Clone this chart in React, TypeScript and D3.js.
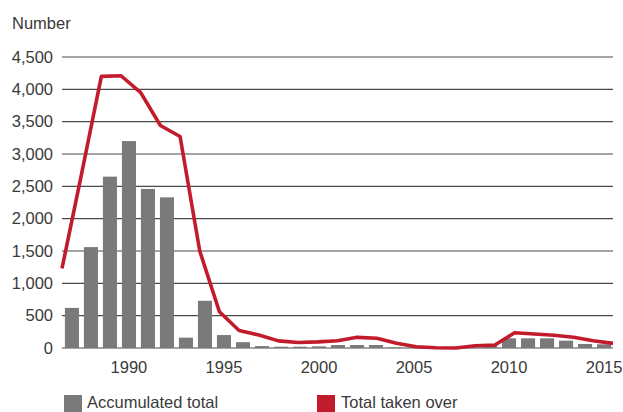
import React from 'react';
import * as d3 from 'd3';

const years = d3.range(1987, 2016).map(String);
const accumulated = [620, 1560, 2650, 3200, 2460, 2330, 160, 730, 200, 90, 30, 20, 20, 25, 46, 46, 46, 10, 5, 5, 5, 10, 30, 150, 150, 150, 113, 62, 57];
const takenOver = [1230, 2700, 4200, 4210, 3950, 3440, 3270, 1500, 560, 270, 200, 110, 85, 95, 113, 165, 150, 73, 20, 5, 0, 35, 45, 237, 217, 196, 165, 113, 72];
const yTicks = [0, 500, 1000, 1500, 2000, 2500, 3000, 3500, 4000, 4500];
const xLabels = ['1990', '1995', '2000', '2005', '2010', '2015'];

const width = 623;
const height = 412;
const left = 62;
const right = 613;
const top = 57;
const bottom = 348;
const font = '"Liberation Sans", Arial, sans-serif';
const textColor = '#3a3a3a';

export default function App() {
  const x = d3.scaleBand().domain(years).range([left + 1, right]).paddingInner(0.26).paddingOuter(0.1);
  const xp = d3.scalePoint().domain(years).range([left, right]);
  const y = d3.scaleLinear().domain([0, 4500]).range([bottom, top]);
  const fmt = d3.format(',');

  const line = d3
    .line<number>()
    .x((d, i) => xp(years[i]) as number)
    .y(d => y(d));

  return (
    <svg width={width} height={height} style={{ position: 'absolute', left: 0, top: 0 }} fontFamily={font}>
      <rect width={width} height={height} fill='#fff' />
      <text x={12} y={29} fontSize={16.5} fill={textColor}>Number</text>
      {yTicks.map(t => (
        <g key={t}>
          <line x1={left} x2={right} y1={y(t)} y2={y(t)} stroke='#4a4a4a' strokeWidth={1.2} />
          <text x={53} y={y(t)} dy='0.35em' textAnchor='end' fontSize={16.5} fill={textColor}>{fmt(t)}</text>
        </g>
      ))}
      {years.map((yr, i) => (
        <rect
          key={yr}
          x={x(yr)}
          width={x.bandwidth()}
          y={y(accumulated[i])}
          height={bottom - y(accumulated[i])}
          fill='#7a7a7a'
        />
      ))}
      <path d={line(takenOver) || ''} fill='none' stroke='#c21b2c' strokeWidth={3.6} strokeLinejoin='round' />
      {xLabels.map(l => (
        <text key={l} x={(x(l) as number) + x.bandwidth() / 2} y={373} textAnchor='middle' fontSize={16.5} fill={textColor}>{l}</text>
      ))}
      <rect x={64} y={395} width={18} height={17} fill='#7a7a7a' />
      <text x={87} y={408} fontSize={16.5} fill={textColor}>Accumulated total</text>
      <rect x={317} y={395} width={18} height={17} fill='#c21b2c' />
      <text x={341} y={408} fontSize={16.5} fill={textColor}>Total taken over</text>
    </svg>
  );
}
